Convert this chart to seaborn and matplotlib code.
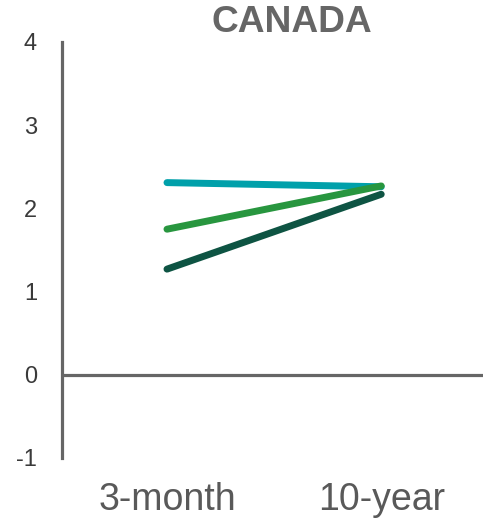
import matplotlib
matplotlib.use("Agg")
import matplotlib.pyplot as plt
import seaborn as sns
import pandas as pd

# Government bond yields (%) by maturity
maturities = ["3-month", "10-year"]
series_names = ["Series A", "Series B", "Series C"]
series_a = [2.31, 2.26]
series_b = [1.75, 2.27]
series_c = [1.27, 2.17]
colors = ["#00A0AA", "#28963F", "#0E5443"]

y_ticks = [-1, 0, 1, 2, 3, 4]

rows = []
for name, vals in zip(series_names, [series_a, series_b, series_c]):
    for m, v in zip(maturities, vals):
        rows.append({"maturity": m, "yield": v, "series": name})
df = pd.DataFrame(rows)

sns.set_theme(style="white")
plt.rcParams["font.family"] = ["Liberation Sans", "DejaVu Sans"]

fig = plt.figure(figsize=(4.83, 5.22), dpi=100)
ax = fig.add_axes([62 / 483, 1 - 458 / 522, 1 - 62 / 483, (458 - 42) / 522])

ax.axhline(0, color="#666666", lw=2.3, zorder=1)

sns.lineplot(data=df, x="maturity", y="yield", hue="series",
             palette=colors, lw=5.0, legend=False, ax=ax,
             solid_capstyle="round", zorder=3)

ax.set_xlim(-0.49, 1.475)
ax.set_ylim(-1, 4)
ax.set_yticks(y_ticks)
ax.set_yticklabels([str(t) for t in y_ticks], fontsize=17, color="#3a3a3a")
ax.tick_params(axis="y", length=0, pad=18)
ax.tick_params(axis="x", length=0, pad=17, labelsize=27, labelcolor="#595959")
ax.set_xlabel("")
ax.set_ylabel("")

for side in ["top", "right", "bottom"]:
    ax.spines[side].set_visible(False)
ax.spines["left"].set_color("#666666")
ax.spines["left"].set_linewidth(2.3)

fig.text(292 / 483, 1 - 22 / 522, "CANADA", ha="center", va="center",
         fontsize=26.7, fontweight="bold", color="#666666")

fig.savefig("out.png", dpi=100)
